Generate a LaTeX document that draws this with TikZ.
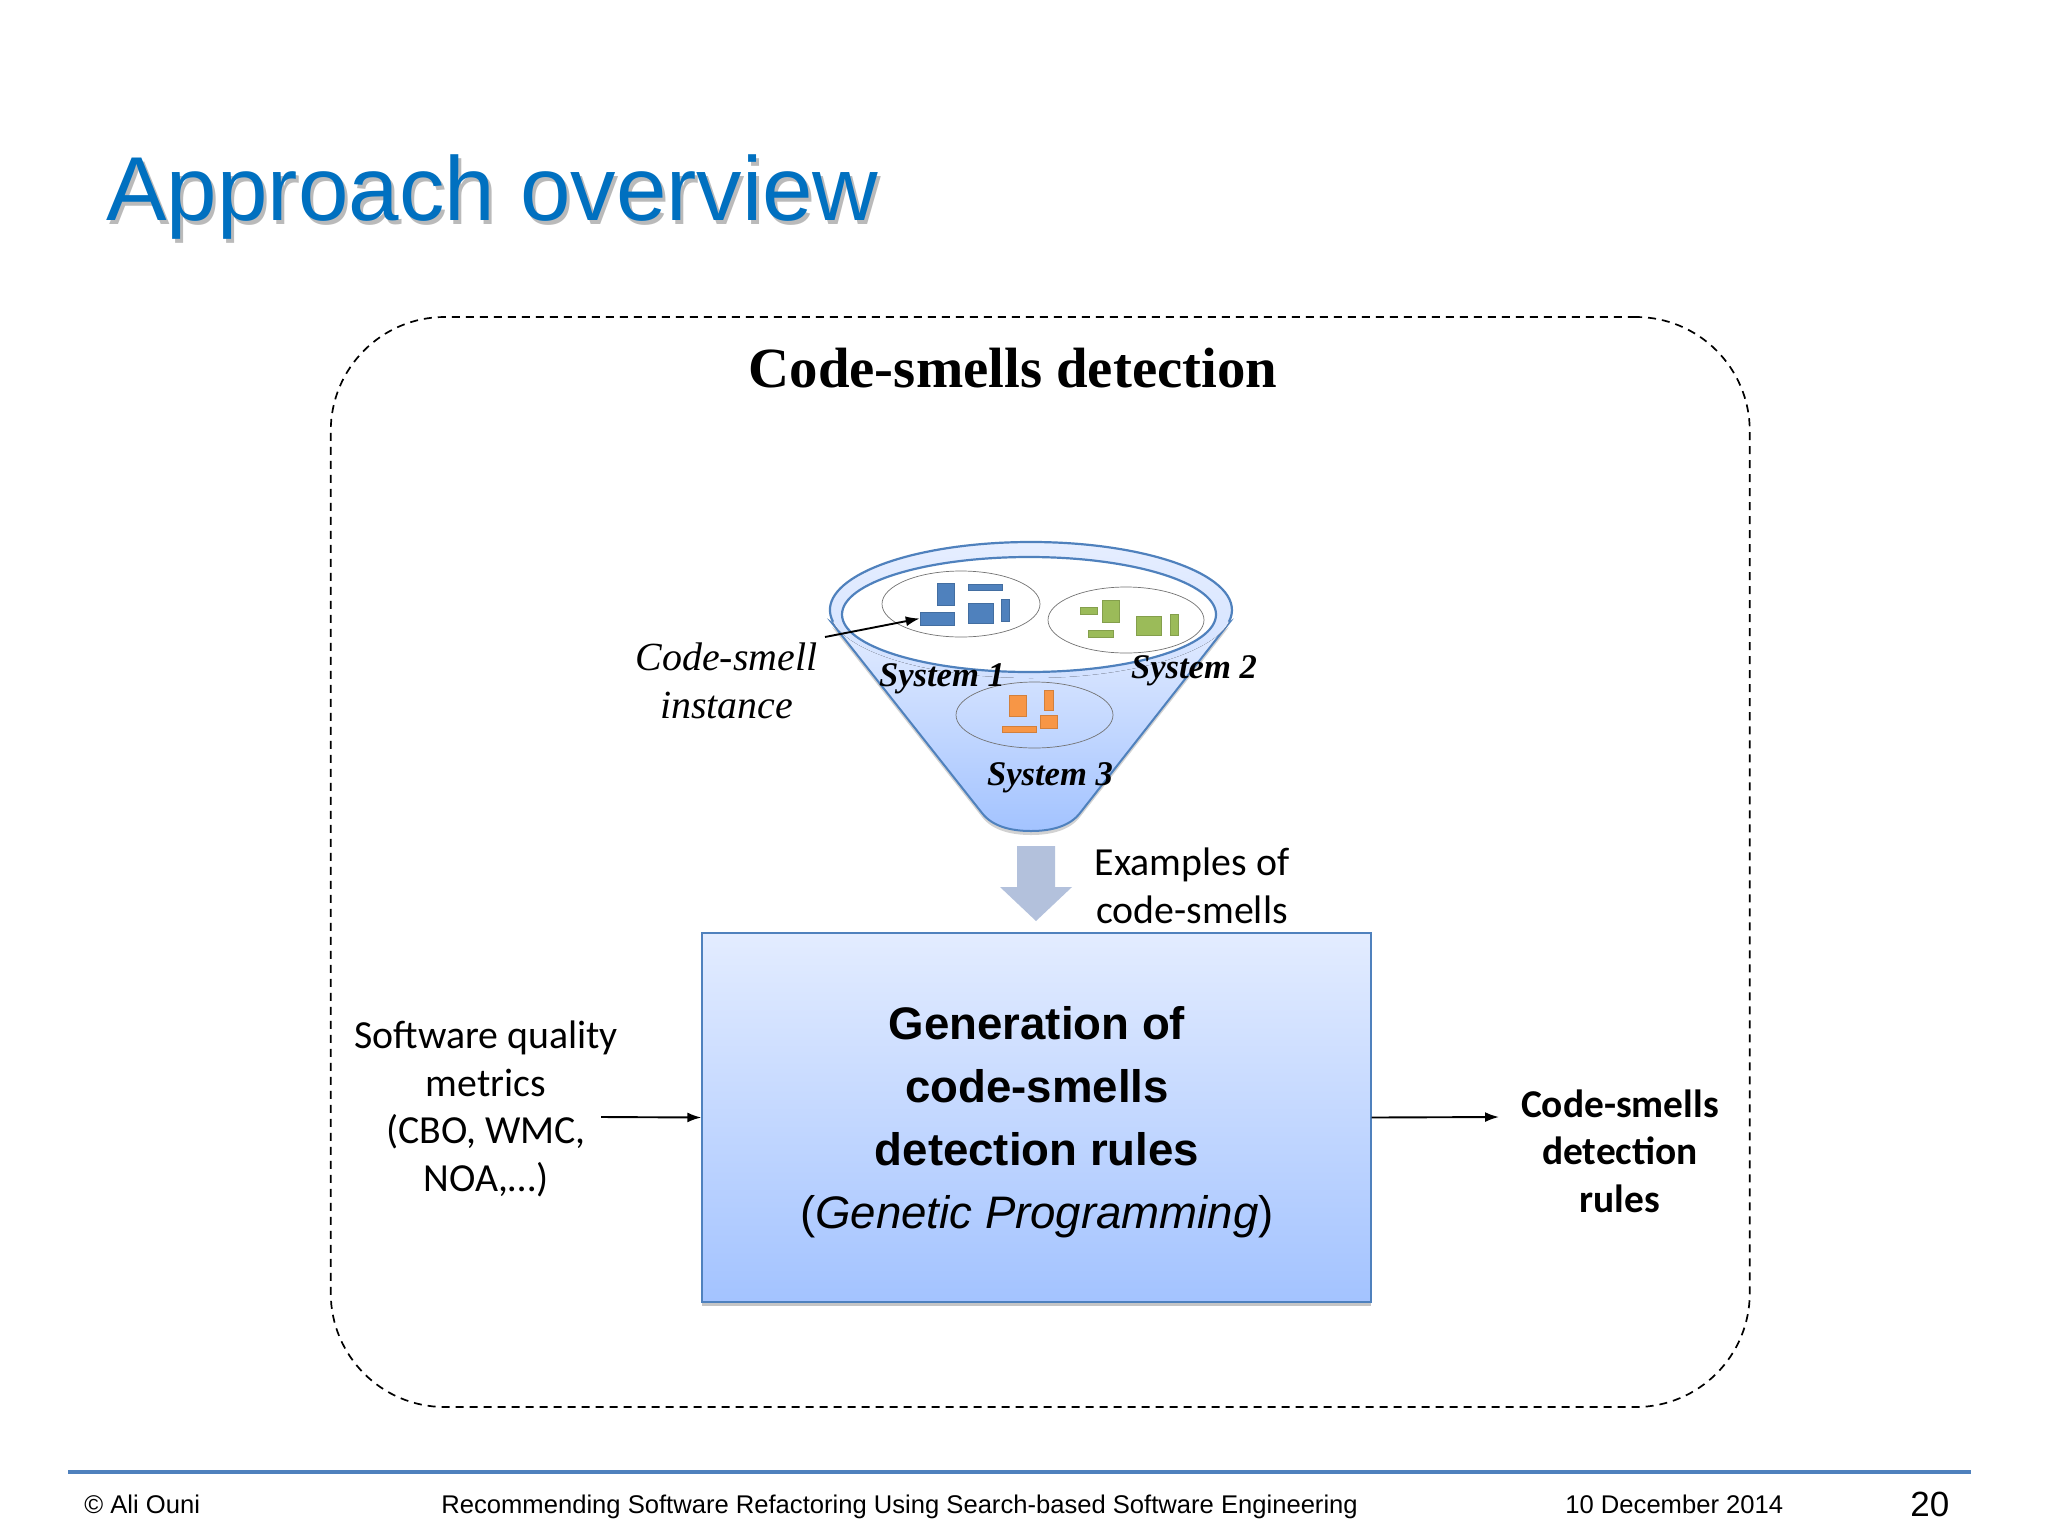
\documentclass[tikz,border=0pt]{standalone}
\usepackage{fontspec}
\setmainfont{Liberation Sans}
\newfontfamily\seriffont{Liberation Serif}
\newfontfamily\calfont{Carlito}
\usetikzlibrary{shadows,shapes.geometric,arrows.meta}
\definecolor{titleblue}{HTML}{0070C0}
\definecolor{rimblue}{HTML}{4F81BD}
\definecolor{lighttop}{HTML}{E3ECFF}
\definecolor{darkbot}{HTML}{A3C3FF}
\definecolor{blockarrow}{HTML}{B3C1DC}
\definecolor{sysblue}{HTML}{4F81BD}
\definecolor{sysgreen}{HTML}{9BBB59}
\definecolor{sysorange}{HTML}{F79646}
\tikzset{
  frame/.style={draw=black,line width=.85pt,dash pattern=on 4pt off 3pt,rounded corners=57pt,minimum width=709.5pt,minimum height=545pt,inner sep=0pt},
  systemring/.style={ellipse,draw=black!55,line width=.35pt,inner sep=0pt},
  smallrect/.style={rectangle,inner sep=0pt,draw=#1!85!black,line width=.25pt,fill=#1},
  syslabel/.style={anchor=base,font=\seriffont\bfseries\itshape\fontsize{17.3pt}{20pt}\selectfont,inner sep=0pt},
  callabel/.style={anchor=base,align=center,inner sep=0pt,font=\calfont\fontsize{19.9pt}{23.7pt}\selectfont},
  footer/.style={anchor=base west,inner sep=0pt,font=\fontsize{12.8pt}{16pt}\selectfont},
  thinarrow/.style={-{Latex[length=7pt,width=5pt]},black,line width=.95pt},
  mainbox/.style={rectangle,draw=rimblue,line width=.7pt,top color=lighttop,bottom color=darkbot,minimum width=334.5pt,minimum height=184.5pt,inner sep=0pt,drop shadow={shadow xshift=0pt,shadow yshift=-2pt,opacity=.45}},
}
\newcommand{\smellrect}[6]{\node[smallrect=#6,minimum width=#4*0.5pt,minimum height=#5*0.5pt] (#1) at (#2,#3) {};}
\begin{document}
\begin{tikzpicture}[x=0.5pt,y=-0.5pt]
\useasboundingbox (0,0) rectangle (2048,1536);
\fill[white] (0,0) rectangle (2048,1536);
% title
\node[anchor=base west,inner sep=0pt,text=black!60,opacity=.45,font=\fontsize{45.4pt}{50pt}\selectfont] at (109,224) {Approach overview};
\node[anchor=base west,inner sep=0pt,text=titleblue,font=\fontsize{45.4pt}{50pt}\selectfont] (title) at (106,220) {Approach overview};
% frame
\node[frame] (frame) at (1040.25,862) {};
\node[anchor=base,inner sep=0pt,font=\seriffont\bfseries\fontsize{28.4pt}{32pt}\selectfont] (heading) at (1013,387) {Code-smells detection};
% funnel
\draw[rimblue,line width=1pt,top color=lighttop,bottom color=darkbot,drop shadow={shadow xshift=0pt,shadow yshift=-2pt,opacity=.35}]
  (832,623) -- (982,813) .. controls (992,826) and (1010,831) .. (1031,831)
  .. controls (1052,831) and (1070,826) .. (1080,813) -- (1229,623)
  .. controls (1180,660) and (880,660) .. cycle;
\fill[top color=lighttop!90!white,bottom color=lighttop!73!darkbot] (1031,610) ellipse [x radius=201,y radius=68];
\draw[rimblue,line width=1.1pt] (833,621.8) arc [start angle=170,end angle=370,x radius=201,y radius=68];
\draw[rimblue,line width=1.1pt,fill=white] (1029,614.5) ellipse [x radius=187,y radius=57.5];
% system rings
\node[systemring,minimum width=79pt,minimum height=33pt] (ring1) at (961,604) {};
\node[systemring,minimum width=78pt,minimum height=33pt] (ring2) at (1126,620) {};
\node[systemring,minimum width=78.5pt,minimum height=33pt] (ring3) at (1034.5,715) {};
% rects
\smellrect{b1}{945.5}{594}{17}{22}{sysblue}
\smellrect{b2}{985}{587}{34}{6}{sysblue}
\smellrect{b3}{980.5}{613}{25}{20}{sysblue}
\smellrect{b4}{1005}{610}{8}{22}{sysblue}
\smellrect{b5}{937}{618.5}{34}{13}{sysblue}
\smellrect{g1}{1088.5}{610.5}{17}{7}{sysgreen}
\smellrect{g2}{1110.5}{611}{17}{22}{sysgreen}
\smellrect{g3}{1148.5}{625.5}{25}{19}{sysgreen}
\smellrect{g4}{1174}{624.5}{8}{21}{sysgreen}
\smellrect{g5}{1100.5}{633.5}{25}{7}{sysgreen}
\smellrect{o1}{1017.5}{705.5}{17}{21}{sysorange}
\smellrect{o2}{1048.5}{700}{9}{20}{sysorange}
\smellrect{o3}{1048.5}{721.5}{17}{13}{sysorange}
\smellrect{o4}{1019}{729}{34}{6}{sysorange}
% system labels
\node[syslabel] (s1) at (942,686.5) {System 1};
\node[syslabel] (s2) at (1194,678.5) {System 2};
\node[syslabel] (s3) at (1050,785.5) {System 3};
% code-smell instance
\node[anchor=base,align=center,inner sep=0pt,font=\seriffont\itshape\fontsize{19.95pt}{24pt}\selectfont] (inst) at (726.5,718.5) {Code-smell\\instance};
\coordinate (instarrow) at (825,637);
\draw[thinarrow] (instarrow) -- (b5.west);
% block arrow
\fill[blockarrow] (1017,846) -- (1055,846) -- (1055,887) -- (1072,887) -- (1036,921) -- (1000,887) -- (1017,887) -- cycle;
\node[callabel] (examples) at (1192,923) {Examples of\\code-smells};
% main box
\node[mainbox] (gen) at (1036.5,1117.5) {};
\node[anchor=base,align=center,inner sep=0pt,font=\fontsize{22.8pt}{31.5pt}\selectfont] (gentext) at (1037,1228.5) {\textbf{Generation of}\\\textbf{code-smells}\\\textbf{detection rules}\\(\textit{Genetic Programming})};
% metrics
\node[callabel] (metrics) at (486,1191) {Software quality\\metrics\\(CBO, WMC,\\NOA,…)};
\coordinate (metricsend) at (601,1117);
\draw[thinarrow] (metricsend) -- (gen.west);
% output
\node[callabel,font=\calfont\bfseries\fontsize{19.7pt}{23.7pt}\selectfont] (rules) at (1620,1212) {Code-smells\\detection\\rules};
\coordinate (rulesend) at (1499,1117);
\draw[thinarrow] (gen.east) -- (rulesend);
% footer
\draw[rimblue,line width=2pt] (68,1472) -- (1971,1472);
\node[footer] (f1) at (84,1513) {© Ali Ouni};
\node[footer] (f2) at (441,1513) {Recommending Software Refactoring Using Search-based Software Engineering};
\node[footer] (f3) at (1565,1513) {10 December 2014};
\node[footer,font=\fontsize{17.5pt}{20pt}\selectfont] (f4) at (1910,1516) {20};
\end{tikzpicture}
\end{document}
